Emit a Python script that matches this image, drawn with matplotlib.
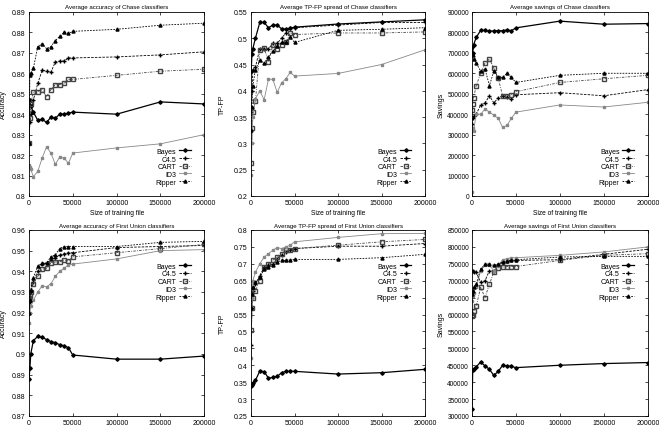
import matplotlib.pyplot as plt

plt.rcParams['font.family'] = ['Liberation Sans Narrow', 'Liberation Sans', 'DejaVu Sans']
plt.rcParams['font.size'] = 5

# training file sizes
sizes = [100, 1000, 2000, 5000, 10000, 15000, 20000, 25000, 30000,
         35000, 40000, 45000, 50000, 100000, 150000, 200000]
names = ['Bayes', 'C4.5', 'CART', 'ID3', 'Ripper']

# Chase accuracy
ch_acc_bayes = [0.826, 0.847, 0.844, 0.841, 0.837, 0.8375, 0.836, 0.8385, 0.838, 0.840, 0.840, 0.8405, 0.841, 0.840, 0.846, 0.845]
ch_acc_c45 = [0.826, 0.836, 0.840, 0.847, 0.855, 0.8615, 0.861, 0.8605, 0.8655, 0.866, 0.866, 0.8675, 0.8675, 0.868, 0.869, 0.8705]
ch_acc_cart = [0.826, 0.838, 0.845, 0.851, 0.851, 0.852, 0.8485, 0.852, 0.8545, 0.8545, 0.855, 0.857, 0.857, 0.859, 0.861, 0.862]
ch_acc_id3 = [0.815, 0.814, 0.813, 0.8095, 0.812, 0.8185, 0.824, 0.821, 0.8155, 0.819, 0.8185, 0.816, 0.821, 0.8235, 0.8255, 0.830]
ch_acc_ripper = [0.826, 0.859, 0.860, 0.8625, 0.873, 0.8745, 0.872, 0.873, 0.876, 0.878, 0.880, 0.8795, 0.8805, 0.8815, 0.8835, 0.8845]

# Chase TP-FP
ch_tp_bayes = [0.437, 0.47, 0.48, 0.50, 0.53, 0.53, 0.52, 0.525, 0.525, 0.518, 0.517, 0.519, 0.521, 0.527, 0.531, 0.535]
ch_tp_c45 = [0.36, 0.40, 0.44, 0.445, 0.48, 0.48, 0.48, 0.49, 0.49, 0.50, 0.51, 0.52, 0.52, 0.525, 0.53, 0.53]
ch_tp_cart = [0.262, 0.33, 0.36, 0.38, 0.478, 0.482, 0.455, 0.487, 0.48, 0.488, 0.492, 0.51, 0.507, 0.51, 0.51, 0.512]
ch_tp_id3 = [0.24, 0.30, 0.35, 0.385, 0.40, 0.383, 0.422, 0.422, 0.397, 0.415, 0.423, 0.435, 0.428, 0.433, 0.45, 0.478]
ch_tp_ripper = [0.325, 0.37, 0.41, 0.44, 0.458, 0.452, 0.465, 0.475, 0.485, 0.492, 0.492, 0.502, 0.492, 0.515, 0.517, 0.52]

# Chase savings
ch_sav_bayes = [730000, 700000, 740000, 775000, 810000, 810000, 805000, 808000, 808000, 808000, 812000, 808000, 822000, 855000, 840000, 843000]
ch_sav_c45 = [350000, 380000, 390000, 400000, 445000, 455000, 490000, 455000, 480000, 490000, 485000, 475000, 495000, 505000, 490000, 520000]
ch_sav_cart = [420000, 450000, 480000, 540000, 600000, 650000, 670000, 625000, 575000, 490000, 490000, 495000, 510000, 555000, 573000, 590000]
ch_sav_id3 = [20000, 330000, 320000, 400000, 400000, 425000, 410000, 395000, 380000, 335000, 345000, 380000, 410000, 445000, 435000, 458000]
ch_sav_ripper = [700000, 690000, 670000, 650000, 610000, 620000, 540000, 610000, 580000, 580000, 600000, 580000, 555000, 590000, 600000, 600000]

# First Union accuracy
fu_acc_bayes = [0.888, 0.893, 0.900, 0.9065, 0.9085, 0.908, 0.907, 0.906, 0.9055, 0.9045, 0.904, 0.903, 0.8995, 0.8975, 0.8975, 0.899]
fu_acc_c45 = [0.920, 0.925, 0.930, 0.935, 0.940, 0.9435, 0.944, 0.9455, 0.9465, 0.948, 0.9485, 0.949, 0.949, 0.9515, 0.952, 0.9525]
fu_acc_cart = [0.927, 0.928, 0.930, 0.934, 0.9375, 0.941, 0.9415, 0.944, 0.9445, 0.9445, 0.9455, 0.945, 0.947, 0.949, 0.951, 0.953]
fu_acc_id3 = [0.915, 0.920, 0.923, 0.926, 0.930, 0.933, 0.9325, 0.934, 0.9375, 0.940, 0.9415, 0.943, 0.9435, 0.946, 0.950, 0.9505]
fu_acc_ripper = [0.920, 0.926, 0.931, 0.937, 0.9425, 0.944, 0.944, 0.947, 0.948, 0.951, 0.952, 0.952, 0.952, 0.952, 0.954, 0.9545]

# First Union TP-FP
fu_tp_bayes = [0.34, 0.342, 0.348, 0.355, 0.383, 0.381, 0.362, 0.364, 0.367, 0.378, 0.382, 0.382, 0.382, 0.374, 0.378, 0.388]
fu_tp_c45 = [0.46, 0.57, 0.62, 0.64, 0.665, 0.69, 0.695, 0.70, 0.715, 0.725, 0.735, 0.74, 0.745, 0.752, 0.752, 0.76]
fu_tp_cart = [0.505, 0.57, 0.60, 0.62, 0.65, 0.69, 0.70, 0.71, 0.72, 0.73, 0.74, 0.74, 0.745, 0.755, 0.765, 0.772]
fu_tp_id3 = [0.42, 0.60, 0.65, 0.675, 0.70, 0.72, 0.73, 0.74, 0.748, 0.745, 0.75, 0.755, 0.765, 0.778, 0.789, 0.79]
fu_tp_ripper = [0.57, 0.61, 0.63, 0.645, 0.66, 0.685, 0.69, 0.695, 0.705, 0.71, 0.71, 0.712, 0.713, 0.713, 0.718, 0.728]

# First Union savings
fu_sav_bayes = [320000, 435000, 440000, 445000, 460000, 448000, 438000, 420000, 432000, 450000, 448000, 447000, 443000, 450000, 455000, 458000]
fu_sav_c45 = [730000, 728000, 726000, 725000, 695000, 700000, 730000, 728000, 745000, 755000, 758000, 760000, 760000, 762000, 778000, 793000]
fu_sav_cart = [595000, 600000, 610000, 625000, 680000, 650000, 690000, 725000, 738000, 740000, 742000, 742000, 742000, 760000, 775000, 780000]
fu_sav_id3 = [640000, 655000, 665000, 680000, 730000, 745000, 745000, 730000, 745000, 762000, 765000, 768000, 768000, 775000, 785000, 800000]
fu_sav_ripper = [660000, 670000, 680000, 690000, 735000, 748000, 750000, 745000, 750000, 755000, 758000, 760000, 762000, 770000, 772000, 772000]

styles = {
    'Bayes': dict(color='black', ls='-', marker='D', ms=1.8, lw=0.9),
    'C4.5': dict(color='black', ls=(0, (3, 1.5)), marker='+', ms=3, lw=0.6),
    'CART': dict(color='#444444', ls=(0, (3, 1.5, 1, 1.5)), marker='s', ms=2.2, mfc='none', lw=0.6),
    'ID3': dict(color='#888888', ls='-', marker='s', ms=1.6, lw=0.6),
    'Ripper': dict(color='black', ls=(0, (2, 1.5)), marker='^', ms=2.2, lw=0.6),
}

panels = [
    ('Average accuracy of Chase classifiers', 'Accuracy',
     [ch_acc_bayes, ch_acc_c45, ch_acc_cart, ch_acc_id3, ch_acc_ripper],
     (0.8, 0.89), [round(0.8 + 0.01 * i, 2) for i in range(10)], 'lower'),
    ('Average TP-FP spread of Chase classifiers', 'TP-FP',
     [ch_tp_bayes, ch_tp_c45, ch_tp_cart, ch_tp_id3, ch_tp_ripper],
     (0.2, 0.55), [round(0.2 + 0.05 * i, 2) for i in range(8)], 'lower'),
    ('Average savings of Chase classifiers', 'Savings',
     [ch_sav_bayes, ch_sav_c45, ch_sav_cart, ch_sav_id3, ch_sav_ripper],
     (0, 900000), [100000 * i for i in range(10)], 'lower'),
    ('Average accuracy of First Union classifiers', 'Accuracy',
     [fu_acc_bayes, fu_acc_c45, fu_acc_cart, fu_acc_id3, fu_acc_ripper],
     (0.87, 0.96), [round(0.87 + 0.01 * i, 2) for i in range(10)], 'upper'),
    ('Average TP-FP spread of First Union classifiers', 'TP-FP',
     [fu_tp_bayes, fu_tp_c45, fu_tp_cart, fu_tp_id3, fu_tp_ripper],
     (0.25, 0.8), [round(0.25 + 0.05 * i, 2) for i in range(12)], 'upper'),
    ('Average savings of First Union classifiers', 'Savings',
     [fu_sav_bayes, fu_sav_c45, fu_sav_cart, fu_sav_id3, fu_sav_ripper],
     (300000, 850000), [300000 + 50000 * i for i in range(12)], 'upper'),
]

fig = plt.figure(figsize=(6.59, 4.31), dpi=100)
lefts = [0.044, 0.381, 0.716]
widths = [0.266, 0.264, 0.267]
bottoms = [0.543, 0.0325]
heights = [0.427, 0.4316]
ylab_off = [22, 25, 27]   # px left of the axes

for i, (title, ylabel, series, ylim, yticks, legpos) in enumerate(panels):
    r, c = divmod(i, 3)
    ax = fig.add_axes([lefts[c], bottoms[r], widths[c], heights[r]])
    for name, vals in zip(names, series):
        ax.plot(sizes, vals, label=name, **styles[name])
    ax.set_xlim(0, 200000)
    ax.set_ylim(*ylim)
    ax.set_xticks([0, 50000, 100000, 150000, 200000])
    ax.set_xticklabels(['0', '50000', '100000', '150000', '200000'])
    ax.set_yticks(yticks)
    ax.set_yticklabels([f'{t:g}' if t < 10 else f'{t:.0f}' for t in yticks])
    ax.tick_params(direction='in', top=True, right=True, length=2.5, width=0.5,
                   labelsize=5, pad=2.5)
    if c == 2:
        ax.tick_params(axis='y', labelsize=4.7, pad=2)
    for s in ax.spines.values():
        s.set_linewidth(0.6)
    ax.set_title(title, fontsize=4.4, pad=2.5)
    ax.set_xlabel('Size of training file', fontsize=4.8, labelpad=2)
    ax.set_ylabel(ylabel, fontsize=5)
    ax.yaxis.set_label_coords(-ylab_off[c] / (widths[c] * 659), 0.5)
    if legpos == 'lower':
        ax.legend(loc='lower right', bbox_to_anchor=(0.95, 0.03), frameon=False,
                  markerfirst=False, fontsize=5, handlelength=1.7,
                  labelspacing=0.1, handletextpad=0.4, borderpad=0.2)
    else:
        ax.legend(loc='upper right', bbox_to_anchor=(0.95, 0.85), frameon=False,
                  markerfirst=False, fontsize=5, handlelength=1.7,
                  labelspacing=0.1, handletextpad=0.4, borderpad=0.2)

fig.savefig('out.png', dpi=100)
